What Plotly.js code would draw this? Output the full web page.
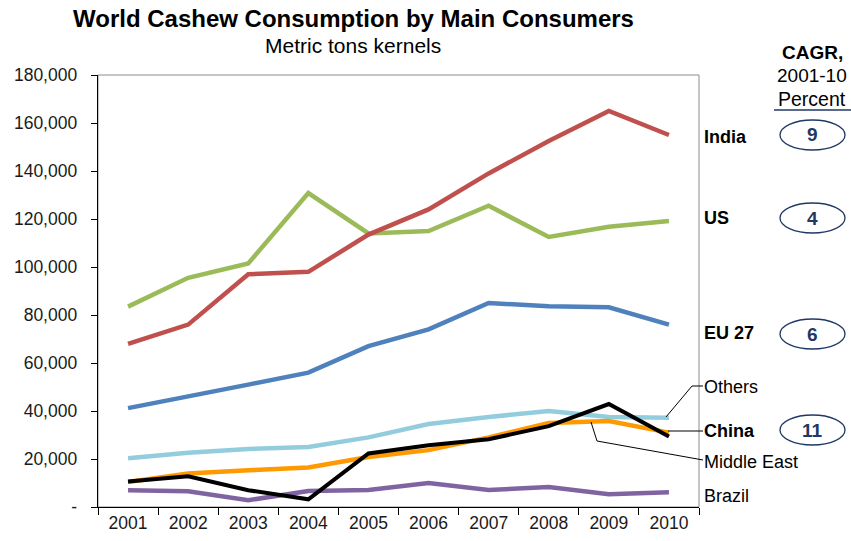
<!DOCTYPE html>
<html><head><meta charset="utf-8">
<script src="https://cdn.plot.ly/plotly-3.0.1.min.js"></script>
<style>body{margin:0;background:#fff}#chart{width:851px;height:541px}</style>
</head><body><div id="chart"></div>
<script>
const years = ["2001","2002","2003","2004","2005","2006","2007","2008","2009","2010"];
const india = [68000, 76000, 97000, 98000, 113500, 124000, 139000, 152500, 165000, 155000];
const us = [83500, 95500, 101500, 130800, 114000, 115000, 125500, 112500, 116800, 119200];
const eu27 = [41200, 46300, 51000, 56000, 67000, 74000, 85000, 83600, 83200, 76000];
const others = [20300, 22600, 24200, 25000, 29000, 34600, 37500, 40000, 37500, 37200];
const china = [10400, 14000, 15300, 16500, 20800, 23700, 29000, 35000, 35800, 31000];
const middleEast = [10600, 12800, 7000, 3200, 22300, 25700, 28200, 33700, 42900, 29400];
const brazil = [7000, 6600, 2800, 6700, 7100, 10000, 7100, 8300, 5300, 6100];
const yTickVals = [0,20000,40000,60000,80000,100000,120000,140000,160000,180000];
const yTickText = ["-","20,000","40,000","60,000","80,000","100,000","120,000","140,000","160,000","180,000"];
const labels = ["India","US","EU 27","Others","China","Middle East","Brazil"];
const cagrLabels = ["9","4","6","11"];

const FONT = "Liberation Sans, Arial, sans-serif";
const L=98, R=699, T=75, B=507;
const px = x => (x-L)/(R-L);
const py = y => (B-y)/(B-T);

function tr(y, color, w){
  return {x: years, y: y, type:'scatter', mode:'lines', line:{color:color, width:w||4.5}, hoverinfo:'skip'};
}
const data = [
  tr(brazil, '#8064A2'),
  tr(others, '#93CDDD'),
  tr(china, '#FF9900'),
  tr(middleEast, '#000000', 4),
  tr(eu27, '#4F81BD'),
  tr(us, '#9BBB59'),
  tr(india, '#C0504D')
];

const shapes = [
  {type:'rect', xref:'paper', yref:'paper', x0:0, x1:1, y0:0, y1:1, line:{color:'#8c8c8c', width:1}, layer:'below'},
  {type:'line', xref:'paper', yref:'paper', x0:px(666), y0:py(417), x1:px(692), y1:py(386), line:{color:'#000', width:1}},
  {type:'line', xref:'paper', yref:'paper', x0:px(692), y0:py(386), x1:px(703), y1:py(386), line:{color:'#000', width:1}},
  {type:'line', xref:'paper', yref:'paper', x0:px(668), y0:py(431), x1:px(703), y1:py(431), line:{color:'#000', width:1}},
  {type:'line', xref:'paper', yref:'paper', x0:px(591), y0:py(422), x1:px(597), y1:py(441), line:{color:'#000', width:1}},
  {type:'line', xref:'paper', yref:'paper', x0:px(597), y0:py(441), x1:px(703), y1:py(460), line:{color:'#000', width:1}},
  {type:'line', xref:'paper', yref:'paper', x0:px(774), y0:py(110), x1:px(851), y1:py(110), line:{color:'#1F3864', width:1.5}}
];
const ellY = [135, 218, 334, 430];
ellY.forEach(cy => shapes.push({type:'circle', xref:'paper', yref:'paper', x0:px(780), x1:px(845), y0:py(cy+15), y1:py(cy-15), line:{color:'#1F3864', width:1.3}}));

const annotations = [];
function ann(text, x, y, opts){
  annotations.push(Object.assign({text:text, xref:'paper', yref:'paper', x:px(x), y:py(y), showarrow:false, xanchor:'center', yanchor:'middle', font:{family:FONT, size:18, color:'#000'}}, opts||{}));
}
ann('<b>World Cashew Consumption by Main Consumers</b>', 353, 18, {font:{family:FONT, size:24, color:'#000'}});
ann('Metric tons kernels', 353, 45, {font:{family:FONT, size:21, color:'#000'}});
ann('<b>CAGR,</b>', 812, 52, {font:{family:FONT, size:19, color:'#000'}});
ann('2001-10', 812, 75, {font:{family:FONT, size:19, color:'#000'}});
ann('Percent', 812, 99, {font:{family:FONT, size:19.5, color:'#000'}});
const labY = [137, 218, 333, 387, 431, 462, 496];
const labBold = [true, true, true, false, true, false, false];
labels.forEach((t,i) => ann(labBold[i] ? '<b>'+t+'</b>' : t, 702, labY[i], {xanchor:'left'}));
cagrLabels.forEach((t,i) => ann('<b>'+t+'</b>', 812, ellY[i], {font:{family:FONT, size:19, color:'#1F3864'}}));

const layout = {
  width:851, height:541,
  margin:{l:L, r:851-R, t:T, b:541-B, pad:0},
  paper_bgcolor:'#fff', plot_bgcolor:'#fff',
  showlegend:false,
  font:{family:FONT, color:'#1a1a1a'},
  xaxis:{type:'category', tickson:'boundaries', ticks:'outside', ticklen:7, tickcolor:'#000', showline:true, linecolor:'#000', linewidth:1.3, showgrid:false, zeroline:false, tickfont:{size:17.5, family:FONT, color:'#1a1a1a'}, range:[-0.5, 9.5], fixedrange:true},
  yaxis:{range:[0,180000], tickvals:yTickVals, ticktext:yTickText, ticks:'outside', ticklen:6, tickcolor:'#000', ticklabelstandoff:10, showline:true, linecolor:'#000', linewidth:1.3, showgrid:false, zeroline:false, tickfont:{size:17.5, family:FONT, color:'#1a1a1a'}, fixedrange:true},
  shapes: shapes,
  annotations: annotations
};
Plotly.newPlot('chart', data, layout, {displayModeBar:false, staticPlot:true});
</script></body></html>
